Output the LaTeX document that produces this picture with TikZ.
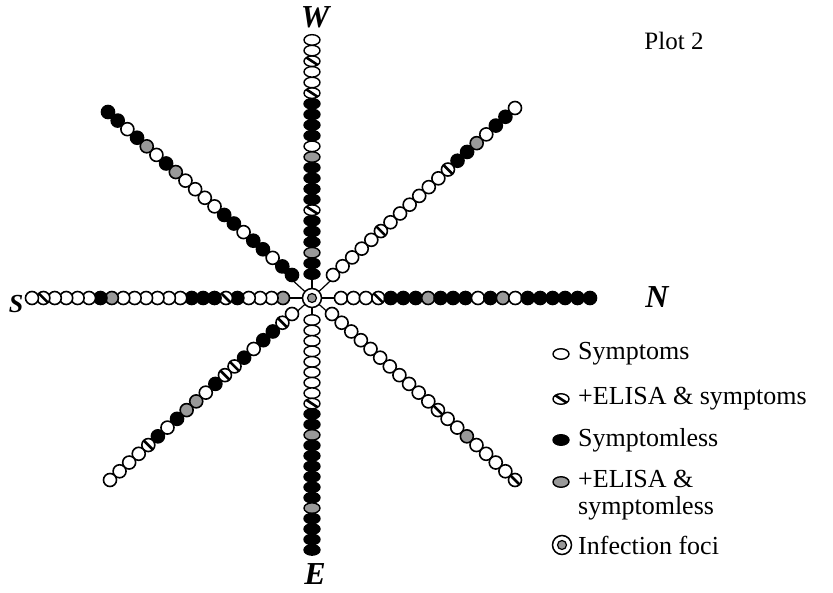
\documentclass[tikz,border=0pt]{standalone}
\usepackage{fontspec}
\setmainfont{Liberation Serif}
\usetikzlibrary{shapes.geometric,backgrounds}

\begin{document}
\begin{tikzpicture}[
  x=1pt, y=-1pt,
  dot/.style={circle,draw,line width=1.6pt,inner sep=0pt,minimum size=13pt},
  vdot/.style={ellipse,draw,line width=1.4pt,inner sep=0pt,
               minimum width=16pt,minimum height=10.5pt},
  sy/.style={fill=white},
  sl/.style={fill=black},
  el/.style={fill=black!40},
  es/.style={fill=white,path picture={\draw[line width=2.6pt]
      (path picture bounding box.north west) -- (path picture bounding box.south east);}},
  foci/.style={circle,draw,line width=1.5pt,fill=white,inner sep=0pt,minimum size=19pt,
      path picture={\draw[line width=1.2pt,fill=black!40]
      (path picture bounding box.center) circle (4.5pt);}},
  arm/.style={line width=1.2pt},
  compass/.style={font=\fontsize{32}{32}\selectfont\bfseries\itshape},
  key/.style={anchor=west,align=left,inner sep=0pt,font=\fontsize{26}{27}\selectfont},
]
\useasboundingbox (0,0) rectangle (833,592);

\node[foci] (foci) at (312,298) {};

% Arms, each listed from the foci outwards.
\foreach \k [count=\i] in {sl,sl,el,sl,sl,sl,es,sl,sl,sl,sl,el,sy,sl,sl,sl,sl,es,sy,sy,es,sy,sy}
  \node[vdot,\k] (w-\i) at (312,{274-(\i-1)*10.64}) {};
\foreach \k [count=\i] in {sy,sy,sy,sy,sy,sy,sy,sy,es,sl,sl,el,sl,sl,sl,sl,sl,sl,el,sl,sl,sl,sl}
  \node[vdot,\k] (e-\i) at (312,{320+(\i-1)*10.45}) {};
\foreach \k [count=\i] in {el,sy,sy,sy,sl,es,sl,sl,sl,sy,sy,sy,sy,sy,sy,el,sl,sy,sy,sy,sy,es,sy}
  \node[dot,\k] (s-\i) at ({283-(\i-1)*11.41},298) {};
\foreach \k [count=\i] in {sy,sy,sy,es,sl,sl,sl,el,sl,sl,sl,sy,sl,el,sy,sl,sl,sl,sl,sl,sl}
  \node[dot,\k] (n-\i) at ({341+(\i-1)*12.45},298) {};

% Diagonal arms
\foreach \k [count=\i] in {sl,sl,sy,sl,sl,sy,sl,sl,sy,sy,sy,sy,el,sl,sy,el,sl,sy,sl,sl}
  \node[dot,\k] (nw-\i) at ({292-(\i-1)*9.684},{275-(\i-1)*8.579}) {};
\foreach \k [count=\i] in {sy,sy,sy,sy,sy,es,sy,sy,sy,sy,sy,sy,es,sl,sl,el,sy,sl,sl,sy}
  \node[dot,\k] (ne-\i) at ({333+(\i-1)*9.579},{275-(\i-1)*8.789}) {};
\foreach \k [count=\i] in {sy,es,sl,sl,sy,sl,es,es,sl,sy,el,el,sl,sy,sl,es,sy,sy,sy,sy}
  \node[dot,\k] (sw-\i) at ({292-(\i-1)*9.579},{314+(\i-1)*8.737}) {};
\foreach \k [count=\i] in {sy,sy,sy,sy,sy,sy,sy,sy,sy,sy,sy,es,sy,sy,el,sy,sy,sy,sy,es}
  \node[dot,\k] (se-\i) at ({332+(\i-1)*9.632},{314+(\i-1)*8.737}) {};

\begin{scope}[on background layer]
  \foreach \a/\last in {w/23,e/23,s/23,n/21,nw/20,ne/20,sw/20,se/20}
    \draw[arm] (foci.center) -- (\a-\last.center);
\end{scope}

% Compass points and title
\node[compass] (lw) at (315,17) {W};
\node[compass] (le) at (315,574) {E};
\node[compass] (ln) at (657,297) {N};
\node[compass,font=\fontsize{26}{26}\selectfont\bfseries\itshape] (ls) at (16,304) {S};
\node[font=\fontsize{25}{25}\selectfont] (title) at (674,41) {Plot 2};

% Legend
\node[vdot,sy] (k-sy) at (561,354) {};
\node[key] (t-sy) at (578,354) {Symptoms};
\node[vdot,es] (k-es) at (561,399) {};
\node[key] (t-es) at (578,399) {+ELISA \& symptoms};
\node[vdot,sl] (k-sl) at (561,440) {};
\node[key] (t-sl) at (578,440) {Symptomless};
\node[vdot,el] (k-el) at (561,482) {};
\node[key] (t-el) at (578,495) {+ELISA \&\\symptomless};
\node[foci] (k-foci) at (562,545) {};
\node[key] (t-foci) at (578,545) {Infection foci};
\end{tikzpicture}
\end{document}
